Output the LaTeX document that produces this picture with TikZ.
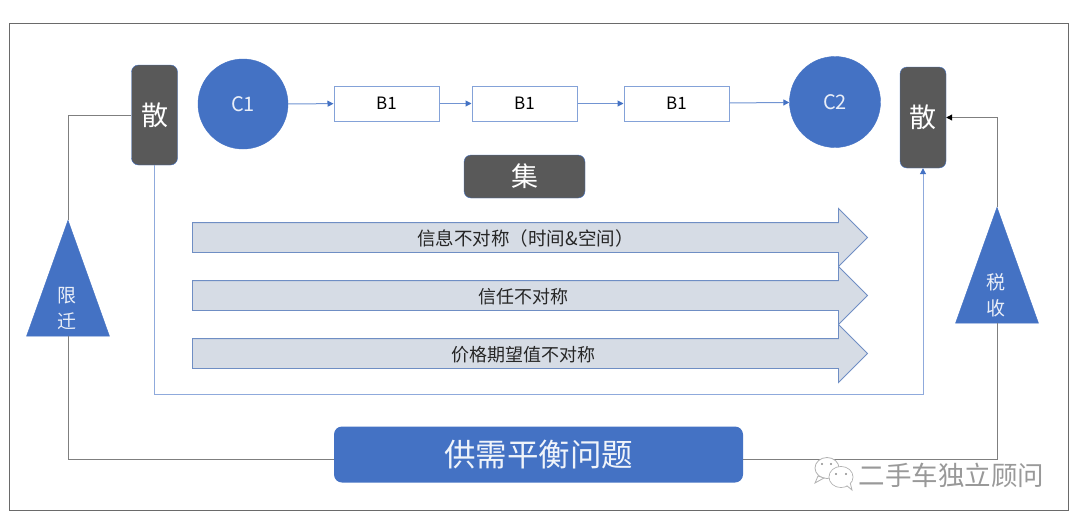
\documentclass[tikz,border=0pt]{standalone}
\usepackage{fontspec}
\setmainfont{Noto Sans CJK SC}
\usetikzlibrary{arrows.meta,shapes.geometric,shapes.arrows}
\definecolor{blueF}{HTML}{4472C4}
\definecolor{darkF}{HTML}{595959}
\definecolor{lineB}{HTML}{8FAADC}
\definecolor{barF}{HTML}{D6DCE5}
\definecolor{barD}{HTML}{6F8EC4}
\definecolor{lineG}{HTML}{7F7F7F}
\tikzset{
  x=1pt,y=-1pt,
  sanbox/.style={draw=blueF,fill=darkF,rounded corners=7pt,text=white,minimum width=46pt,minimum height=100pt,inner sep=0pt,font=\fontsize{27}{27}\selectfont},
  circ/.style={circle,draw=blueF,fill=blueF,text=white!88!blueF,inner sep=0pt,font=\fontsize{20}{20}\selectfont},
  bbox/.style={draw=lineB!85!blueF,fill=white,line width=1pt,minimum width=105pt,minimum height=35pt,inner sep=0pt,text=black,font=\fontsize{17}{17}\selectfont},
  bar/.style={single arrow,draw=barD,fill=barF,line width=0.9pt,anchor=tail,minimum height=675pt,inner sep=0pt,single arrow head extend=14pt,single arrow tip angle=90},
  bartext/.style={text=black!85,inner sep=0pt,font=\fontsize{18}{18}\selectfont},
  tri/.style={isosceles triangle,isosceles triangle stretches,shape border rotate=90,fill=blueF,draw=blueF,minimum width=83pt,minimum height=116pt,inner sep=0pt},
  tritext/.style={text=white!88!blueF,inner sep=0pt,align=center,font=\fontsize{19}{26}\selectfont},
  bluelink/.style={draw=lineB,line width=1pt},
  bluetip/.style={-{Triangle[length=6pt,width=6pt,color=blueF]},draw=lineB!60!blueF,line width=1pt},
  greylink/.style={draw=lineG,line width=1pt},
}
\begin{document}
\begin{tikzpicture}
\useasboundingbox (0,0) rectangle (1080,523);
\fill[white] (0,0) rectangle (1080,523);
\draw[draw=darkF!90,line width=1pt] (9.5,23) rectangle (1068,510);
\node[sanbox] (lsan) at (154.5,115) {散};
\node[sanbox,minimum height=101pt] (rsan) at (923,117.5) {散};
\node[circ,minimum size=90pt] (c1) at (243,104) {C1};
\node[circ,minimum size=91pt] (c2) at (835,102) {C2};
\node[bbox] (b1) at (386.5,103.5) {B1};
\node[bbox] (b2) at (524.5,103.5) {B1};
\node[bbox] (b3) at (676.5,103.5) {B1};
\node[draw=blueF,fill=darkF,rounded corners=7pt,text=white,minimum width=121pt,minimum height=43pt,inner sep=0pt,font=\fontsize{27}{27}\selectfont] (ji) at (524.5,176.5) {集};
\node[bar] (a1) at (192,237.5) {\rule{0pt}{29pt}};
\node[bar] (a2) at (192,295.5) {\rule{0pt}{29pt}};
\node[bar] (a3) at (192,353.5) {\rule{0pt}{29pt}};
\node[bartext,font=\fontsize{18.5}{18.5}\selectfont] (t1) at (525.5,238.5) {信息不对称（时间\&空间）};
\node[bartext] (t2) at (523,296.5) {信任不对称};
\node[bartext] (t3) at (523,354.5) {价格期望值不对称};
\node[tri] (ltri) at (68,307) {};
\node[tri] (rtri) at (997,294) {};
\node[tritext] (lt) at (67,308) {限\\迁};
\node[tritext] (rt) at (996,295) {税\\收};
\node[rounded corners=8pt,fill=blueF,text=white!92!blueF,minimum width=409pt,minimum height=56pt,inner sep=0pt,font=\fontsize{31.5}{32}\selectfont] (gong) at (538.5,454.5) {供需平衡问题};
\draw[bluetip] (c1) -- (b1);
\draw[bluetip] (b1) -- (b2);
\draw[bluetip] (b2) -- (b3);
\draw[bluetip] (b3) -- (c2);
\coordinate (bl) at (540,394);
\draw[bluelink] (lsan.south) |- (bl);
\draw[bluetip,draw=lineB] (bl) -| (rsan.south);
\draw[greylink] (lsan.west) -| (ltri.apex);
\draw[greylink] (ltri.lower side) |- ([yshift=-4.5pt]gong.west);
\draw[greylink] ([yshift=-4.5pt]gong.east) -| (rtri.lower side);
\draw[greylink,-{Triangle[length=6pt,width=6pt,color=black]}] (rtri.apex) |- (rsan.east);
\begin{scope}[draw=black!30,fill=white,line width=0.8pt]
\filldraw (827,468) ellipse (12pt and 10.5pt);
\filldraw (818,476) -- (815,483) -- (824,478) -- cycle;
\filldraw (841,477) ellipse (12pt and 10.5pt);
\filldraw (846,485) -- (852,490) -- (850,482) -- cycle;
\fill[white] (841,477) ellipse (11.4pt and 9.9pt);
\fill[black!45] (822,464) circle (1.2pt) (831,464) circle (1.2pt) (836,474) circle (1.2pt) (846,474) circle (1.2pt);
\end{scope}
\node[text=black!40,inner sep=0pt,font=\fontsize{26.5}{26.5}\selectfont\addfontfeatures{Weight=Light}] (wm) at (951.5,475) {二手车独立顾问};
\end{tikzpicture}
\end{document}
